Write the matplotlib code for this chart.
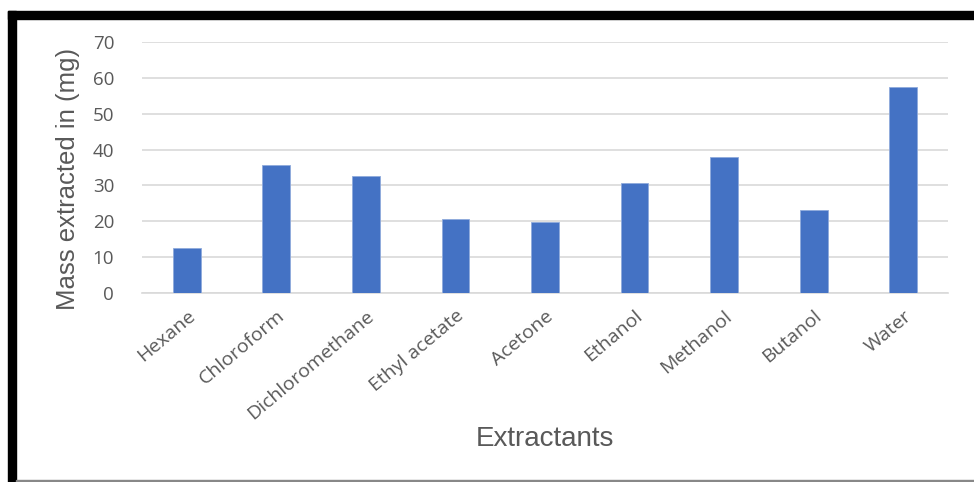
import matplotlib
matplotlib.use("Agg")
import matplotlib.pyplot as plt
from matplotlib.patches import Rectangle

extractants = ["Hexane", "Chloroform", "Dichloromethane", "Ethyl acetate", "Acetone",
               "Ethanol", "Methanol", "Butanol", "Water"]
mass_mg = [12.5, 35.7, 32.6, 20.6, 19.8, 30.7, 37.9, 23.1, 57.4]
y_ticks = [0, 10, 20, 30, 40, 50, 60, 70]

text_color = "#595959"
bar_color = "#4472C4"
grid_color = "#D9D9D9"

plt.rcParams["font.family"] = ["Open Sans", "DejaVu Sans"]

fig = plt.figure(figsize=(9.74, 4.82), dpi=100)

# frame around the chart: thick black top and left edges
fig.patches.append(Rectangle((8 / 974, 0), 8 / 974, 1 - 11 / 482, transform=fig.transFigure,
                             color="black", zorder=0))
fig.patches.append(Rectangle((8 / 974, 1 - 19 / 482), 1, 8 / 482, transform=fig.transFigure,
                             color="black", zorder=0))
fig.patches.append(Rectangle((16 / 974, 0), 1, 2 / 482, transform=fig.transFigure,
                             color="#888888", zorder=0))

ax = fig.add_axes([142 / 974, 189 / 482, 806 / 974, 251 / 482])
x = range(len(extractants))
ax.bar(x, mass_mg, width=0.31, color=bar_color, edgecolor="#8FAADC", linewidth=0.6, zorder=3)
ax.set_xlim(-0.5, len(extractants) - 0.5)
ax.set_ylim(0, 70)
ax.set_yticks(y_ticks)
ax.yaxis.grid(True, color=grid_color, linewidth=1.2, zorder=0)
ax.set_axisbelow(True)
for s in ["top", "right", "left"]:
    ax.spines[s].set_visible(False)
ax.spines["bottom"].set_color(grid_color)
ax.spines["bottom"].set_linewidth(1.2)
ax.tick_params(axis="both", length=0, colors=text_color)
ax.tick_params(axis="y", pad=20, labelsize=13.5)
ax.set_xticks(list(x))
ax.set_xticklabels(extractants, rotation=40, ha="right", rotation_mode="anchor", fontsize=14)
ax.tick_params(axis="x", pad=10)
ax.set_ylabel("Mass extracted in (mg)", fontsize=18.5, color=text_color,
              family="Liberation Sans")
ax.yaxis.set_label_coords(-0.077, 0.455)
ax.set_xlabel("Extractants", fontsize=20, color=text_color, labelpad=2,
              family="Liberation Sans")

fig.savefig("out.png", dpi=100)
